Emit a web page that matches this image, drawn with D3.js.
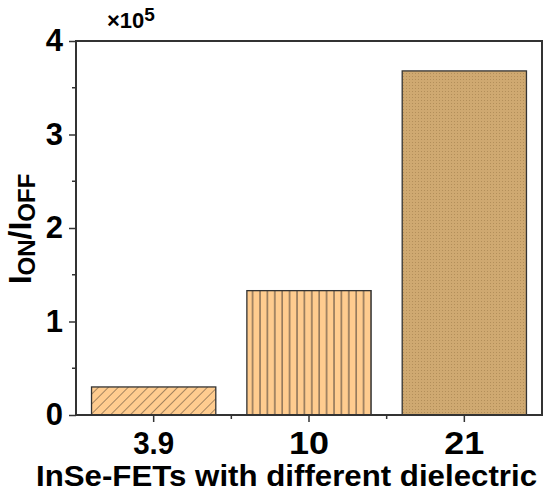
<!DOCTYPE html>
<html>
<head>
<meta charset="utf-8">
<script src="https://cdn.jsdelivr.net/npm/d3@7"></script>
<style>
  body { margin: 0; background: #fff; }
  text { font-family: Arial, "Liberation Sans", sans-serif; font-weight: bold; }
</style>
</head>
<body>
<svg id="chart"></svg>
<script>
// On/off ratio bar chart
const categories = ["3.9", "10", "21"];
const ratios = [0.30, 1.33, 3.68];   // in units of 1e5
const yTicks = [0, 1, 2, 3, 4];
const fills = ["url(#hatch)", "url(#vlines)", "url(#dots)"];

const width = 550,
    height = 497;
const margin = { top: 41, right: 8, bottom: 82, left: 76 };

const svg = d3.select("#chart")
    .attr("width", width)
    .attr("height", height);

// Patterns for the bars
const defs = svg.append("defs");

const hatch = defs.append("pattern")
    .attr("id", "hatch")
    .attr("patternUnits", "userSpaceOnUse")
    .attr("width", 7).attr("height", 7)
    .attr("patternTransform", "rotate(45)");
hatch.append("rect").attr("width", 7).attr("height", 7).attr("fill", "#ffcc8f");
hatch.append("line")
    .attr("x1", 0).attr("y1", 0).attr("x2", 0).attr("y2", 7)
    .attr("stroke", "#4a3d30").attr("stroke-width", 1);

const vlines = defs.append("pattern")
    .attr("id", "vlines")
    .attr("patternUnits", "userSpaceOnUse")
    .attr("width", 7.4).attr("height", 10);
vlines.append("rect").attr("width", 7.4).attr("height", 10).attr("fill", "#ffcc8f");
vlines.append("line")
    .attr("x1", 1).attr("y1", 0).attr("x2", 1).attr("y2", 10)
    .attr("stroke", "#6b5a48").attr("stroke-width", 1.2);

const dots = defs.append("pattern")
    .attr("id", "dots")
    .attr("patternUnits", "userSpaceOnUse")
    .attr("width", 3).attr("height", 3);
dots.append("rect").attr("width", 3).attr("height", 3).attr("fill", "#cfa971");
dots.append("rect").attr("x", 1).attr("y", 1).attr("width", 1).attr("height", 1).attr("fill", "#b38f5a");

const x = d3.scaleBand()
    .domain(categories)
    .range([margin.left, width - margin.right])
    .paddingInner(0.2)
    .paddingOuter(0.1);

const y = d3.scaleLinear()
    .domain([0, 4])
    .range([height - margin.bottom, margin.top]);

// Bars
svg.selectAll(".bar")
    .data(ratios)
    .enter()
    .append("rect")
    .attr("class", "bar")
    .attr("x", (d, i) => x(categories[i]))
    .attr("y", d => y(d))
    .attr("width", x.bandwidth())
    .attr("height", d => y(0) - y(d))
    .attr("fill", (d, i) => fills[i])
    .attr("stroke", "#333")
    .attr("stroke-width", 1.3);

// Frame
svg.append("rect")
    .attr("x", margin.left)
    .attr("y", margin.top)
    .attr("width", width - margin.right - margin.left)
    .attr("height", height - margin.bottom - margin.top)
    .attr("fill", "none")
    .attr("stroke", "#333")
    .attr("stroke-width", 2);

// Y axis
const yAxis = svg.append("g")
    .attr("transform", `translate(${margin.left},0)`)
    .call(d3.axisLeft(y).tickValues(yTicks).tickSize(7).tickPadding(6).tickFormat(d3.format("d")));
yAxis.select(".domain").remove();
yAxis.selectAll("line").attr("stroke", "#333").attr("stroke-width", 1.5);
yAxis.selectAll("text").style("font-size", "31px").attr("fill", "#000");

// y minor ticks
svg.append("g")
    .selectAll("line")
    .data(d3.range(0.5, 4, 1))
    .enter()
    .append("line")
    .attr("x1", margin.left - 4).attr("x2", margin.left)
    .attr("y1", d => y(d)).attr("y2", d => y(d))
    .attr("stroke", "#333").attr("stroke-width", 1.5);

// X axis
const xAxis = svg.append("g")
    .attr("transform", `translate(0,${height - margin.bottom})`)
    .call(d3.axisBottom(x).tickSize(7).tickPadding(9));
xAxis.select(".domain").remove();
xAxis.selectAll("line").attr("stroke", "#333").attr("stroke-width", 1.5);
xAxis.selectAll("text")
    .style("font-size", "32px")
    .attr("fill", "#000")
    .attr("textLength", d => d.length > 2 ? 41 : 40)
    .attr("lengthAdjust", "spacingAndGlyphs");

// x minor ticks between bars
svg.append("g")
    .selectAll("line")
    .data(categories.slice(1))
    .enter()
    .append("line")
    .attr("x1", d => x(d) - x.step() * x.paddingInner() / 2)
    .attr("x2", d => x(d) - x.step() * x.paddingInner() / 2)
    .attr("y1", y(0)).attr("y2", y(0) + 4)
    .attr("stroke", "#333").attr("stroke-width", 1.5);

// Multiplier label
const mult = svg.append("text")
    .attr("x", 107).attr("y", 28)
    .style("font-size", "22px");
mult.append("tspan").text("×10");
mult.append("tspan").attr("dy", -7).style("font-size", "19px").text("5");

// Axis titles
svg.append("text")
    .attr("x", 36)
    .attr("y", 486)
    .style("font-size", "30px")
    .attr("textLength", 501)
    .attr("lengthAdjust", "spacingAndGlyphs")
    .text("InSe-FETs with different dielectric");

const yt = svg.append("text")
    .attr("transform", "translate(31,229) rotate(-90)")
    .attr("text-anchor", "middle")
    .style("font-size", "32px");
yt.append("tspan").text("I");
yt.append("tspan").attr("dy", 4).style("font-size", "24px").text("ON");
yt.append("tspan").attr("dy", -4).text("/I");
yt.append("tspan").attr("dy", 4).style("font-size", "24px").text("OFF");
</script>
</body>
</html>
